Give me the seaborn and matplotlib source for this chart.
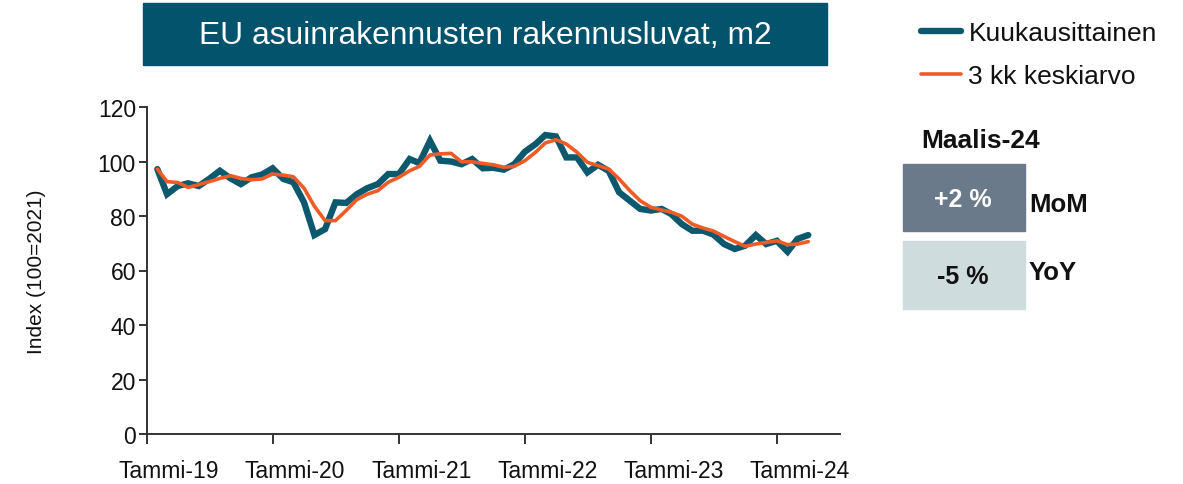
import numpy as np
import pandas as pd
import matplotlib.pyplot as plt
import matplotlib.transforms as mtransforms
from matplotlib.patches import Rectangle
import seaborn as sns

# Monthly index values (100 = 2021), Jan 2019 .. Mar 2024
monthly = [97.2, 88.0, 91.0, 92.0, 91.0, 93.6, 96.6, 93.8, 91.7, 94.2,
           95.2, 97.5, 93.6, 92.4, 85.0, 73.0, 75.2, 85.0, 84.8, 88.0,
           90.2, 91.7, 95.4, 95.4, 100.9, 99.4, 107.6, 100.3, 100.0, 99.0,
           100.9, 97.5, 97.7, 97.0, 99.0, 103.6, 106.4, 109.7, 109.2, 101.5,
           101.5, 96.0, 98.8, 96.5, 88.7, 85.6, 82.6, 82.0, 82.6, 80.7,
           77.0, 74.6, 74.6, 73.2, 69.7, 67.9, 69.1, 73.0, 69.7, 70.9,
           66.9, 71.6, 73.0]
avg3 = [97.2, 92.6, 92.3, 90.5, 91.5, 92.6, 93.8, 94.8, 93.8, 93.3,
        93.6, 95.4, 95.0, 94.4, 90.2, 83.6, 78.3, 78.3, 82.0, 86.0,
        88.0, 89.3, 92.4, 94.2, 96.6, 98.2, 102.4, 102.8, 103.0, 99.9,
        99.9, 99.3, 98.8, 97.9, 98.2, 100.3, 103.4, 106.8, 108.0, 106.4,
        103.4, 99.7, 98.5, 97.2, 93.6, 89.3, 85.6, 83.2, 82.2, 81.4,
        79.9, 77.0, 75.6, 74.5, 72.5, 70.6, 68.9, 69.7, 70.3, 70.9,
        69.5, 69.7, 70.6]
years = [2019, 2020, 2021, 2022, 2023, 2024]
tick_labels = ["Tammi-19", "Tammi-20", "Tammi-21", "Tammi-22", "Tammi-23", "Tammi-24"]
series_names = ["Kuukausittainen", "3 kk keskiarvo"]
last_label = "Maalis-24"
mom_text, yoy_text = "+2 %", "-5 %"

dates = pd.date_range("2019-01-31", periods=len(monthly), freq="ME")
df = pd.DataFrame({"date": dates, "monthly": monthly, "avg3": avg3})

BLUE = "#0C586D"
ORANGE = "#EF5B25"
TITLE_BG = "#02536B"
AXC = "#333333"

sns.set_theme(style="white")
plt.rcParams["font.family"] = ["Liberation Sans", "DejaVu Sans"]

fig = plt.figure(figsize=(11.83, 4.85), dpi=100)
W, H = 1183, 485
ax = fig.add_axes([147 / W, 1 - 435 / H, (840 - 147) / W, (435 - 108) / H])

sns.lineplot(data=df, x="date", y="monthly", ax=ax, color=BLUE, linewidth=4.6,
             label=series_names[0], solid_joinstyle="miter")
sns.lineplot(data=df, x="date", y="avg3", ax=ax, color=ORANGE, linewidth=2.6,
             label=series_names[1])

ax.set_ylim(0, 120)
ax.set_yticks(range(0, 121, 20))
ax.set_xlim(pd.Timestamp("2019-01-01"), pd.Timestamp("2024-07-01"))
ax.set_xticks([pd.Timestamp(f"{y}-01-01") for y in years])
ax.set_xticklabels(tick_labels)
ax.set_xlabel("")
ax.set_ylabel("Index (100=2021)", fontsize=15, color="#111111")
ax.yaxis.set_label_coords(-0.146, 0.5)

for s in ["top", "right"]:
    ax.spines[s].set_visible(False)
for s in ["left", "bottom"]:
    ax.spines[s].set_color(AXC)
    ax.spines[s].set_linewidth(1.4)
ax.tick_params(axis="y", direction="out", length=6, width=1.4, color=AXC,
               labelsize=16.5, pad=2, labelcolor="#111111", left=True)
ax.tick_params(axis="x", direction="out", length=7, width=1.4, color=AXC,
               labelsize=16.5, pad=11, labelcolor="#111111", bottom=True)

offset = mtransforms.ScaledTranslation(0.22, 0, fig.dpi_scale_trans)
for lbl in ax.get_xticklabels():
    lbl.set_transform(lbl.get_transform() + offset)

# legend on the right
handles, labels = ax.get_legend_handles_labels()
ax.get_legend().remove()
fig.legend(handles, labels, loc="upper left", bbox_to_anchor=(921 / W, 1 - 22 / H),
           frameon=False, fontsize=19, handlelength=1.5, handletextpad=0.3,
           labelspacing=0.72, borderpad=0, borderaxespad=0, labelcolor="#111111")

# title box
fig.patches.append(Rectangle((143 / W, 1 - 66 / H), (827 - 143) / W, 62 / H,
                             transform=fig.transFigure, color=TITLE_BG, zorder=0))
fig.text(485 / W, 1 - 36 / H, "EU asuinrakennusten rakennusluvat, m2",
         color="white", fontsize=22.9, ha="center", va="center")

# latest change boxes
fig.text(921 / W, 1 - 141 / H, last_label, fontsize=19, fontweight="bold",
         color="#111111", ha="left", va="center")
fig.patches.append(Rectangle((903 / W, 1 - 232 / H), 122 / W, 67 / H,
                             transform=fig.transFigure, color="#6B7A8B", zorder=0))
fig.patches.append(Rectangle((903 / W, 1 - 310 / H), 122 / W, 68 / H,
                             transform=fig.transFigure, color="#CFDCDD", zorder=0))
fig.text(963 / W, 1 - 200 / H, mom_text, fontsize=18, fontweight="bold",
         color="white", ha="center", va="center")
fig.text(963 / W, 1 - 277 / H, yoy_text, fontsize=18, fontweight="bold",
         color="#111111", ha="center", va="center")
fig.text(1029 / W, 1 - 205 / H, "MoM", fontsize=18.5, fontweight="bold",
         color="#111111", ha="left", va="center")
fig.text(1029 / W, 1 - 273 / H, "YoY", fontsize=18.5, fontweight="bold",
         color="#111111", ha="left", va="center")

fig.savefig("out.png", dpi=100, facecolor="white")
